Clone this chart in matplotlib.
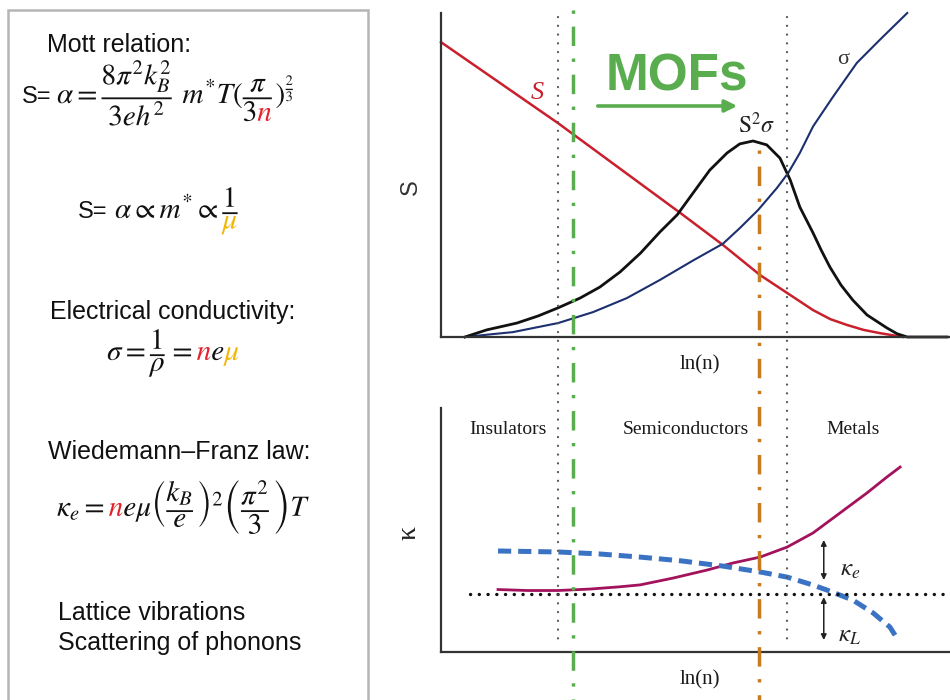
import numpy as np
import matplotlib
matplotlib.use('Agg')
import matplotlib.pyplot as plt
from matplotlib.patches import Rectangle, PathPatch
from matplotlib.path import Path
from matplotlib.transforms import Affine2D
from matplotlib.font_manager import FontProperties
from matplotlib.textpath import text_to_path

plt.rcParams['font.family'] = ['Liberation Sans', 'DejaVu Sans']
plt.rcParams['mathtext.fontset'] = 'stix'
plt.rcParams['lines.scale_dashes'] = False

W, H = 950, 700

# upper panel: S, sigma and S^2*sigma against ln(n) (arbitrary units 0..10)
s_x = [0.0, 2.30, 4.70, 5.54, 6.27, 6.80, 7.31, 7.65, 7.98, 8.30, 8.62, 9.08]
s_y = [9.10, 6.60, 3.83, 2.84, 1.91, 1.36, 0.83, 0.55, 0.37, 0.22, 0.12, 0.0]
sigma_x = [0.47, 0.96, 1.41, 2.30, 2.99, 3.65, 4.30, 4.95, 5.54, 5.87, 6.23, 6.60, 6.82,
           7.05, 7.31, 7.70, 8.17, 8.62, 9.16]
sigma_y = [0.0, 0.08, 0.15, 0.43, 0.77, 1.20, 1.76, 2.36, 2.88, 3.36, 3.92, 4.60, 5.06,
           5.68, 6.50, 7.41, 8.46, 9.17, 10.0]
pf_x = [0.47, 0.90, 1.49, 1.91, 2.30, 2.73, 3.12, 3.52, 3.92, 4.30, 4.64, 4.95, 5.28, 5.62,
        5.87, 6.13, 6.40, 6.66, 6.86, 7.05, 7.31, 7.47, 7.64, 7.86, 8.09, 8.37, 8.76, 8.96,
        9.16, 9.94]
pf_y = [0.0, 0.22, 0.43, 0.65, 0.90, 1.20, 1.54, 2.01, 2.59, 3.24, 3.77, 4.44, 5.15, 5.68,
        5.96, 6.05, 5.93, 5.52, 4.85, 4.01, 3.21, 2.68, 2.16, 1.60, 1.14, 0.68, 0.28, 0.10,
        0.0, 0.0]

# lower panel: total kappa and lattice kappa
kappa_x = [1.12, 1.70, 2.30, 2.93, 3.50, 3.91, 4.56, 5.23, 5.74, 6.27, 6.80, 7.31, 7.84,
           8.37, 8.76, 9.02]
kappa_y = [2.56, 2.52, 2.52, 2.58, 2.67, 2.75, 3.03, 3.36, 3.65, 3.89, 4.30, 4.88, 5.70,
           6.52, 7.17, 7.58]
kl_x = [1.12, 2.30, 3.10, 3.91, 4.70, 5.54, 6.27, 6.80, 7.30, 7.58, 8.09, 8.49, 8.82, 8.98]
kl_y = [4.14, 4.10, 4.02, 3.89, 3.74, 3.52, 3.28, 3.07, 2.75, 2.54, 2.13, 1.60, 1.02, 0.49]
kappa_ref = 2.38
regions = ['Insulators', 'Semiconductors', 'Metals']
region_pos = [1.32, 4.81, 8.09]

# vertical guides: region borders, MOF range, power-factor peak
border_x = [2.30, 6.80]
mof_x = 2.59
peak_x = 6.25

RED = '#c8202c'
GREEN = '#5aad4e'
ORANGE = '#c97a1f'
N_RED = '#e3222c'
MU_GOLD = '#f2b705'
INK = '#111111'

fig = plt.figure(figsize=(W / 100, H / 100), dpi=100)


def px(x, y):
    return x / W, 1 - y / H


def math_text(x, y, tex, size, colors=None):
    """mathtext drawn glyph by glyph so single letters can carry their own colour"""
    colors = colors or {}
    prop = FontProperties(size=size, math_fontfamily='stix')
    glyphs, glyph_map, rects = text_to_path.get_glyphs_mathtext(prop, tex)
    k = size / text_to_path.FONT_SCALE * fig.dpi / 72
    tr = Affine2D().scale(k).translate(x, H - y)
    groups = {}
    for gid, gx, gy, scale in glyphs:
        verts, codes = glyph_map[gid]
        if len(codes) == 0:
            continue
        try:
            code = int(gid.rsplit('-', 1)[1], 16)
        except ValueError:
            code = None
        c = colors.get(code, INK)
        groups.setdefault(c, []).append((np.asarray(verts) * scale + [gx, gy], np.asarray(codes)))
    for verts, codes in rects:
        groups.setdefault(INK, []).append((np.asarray(verts, float), np.asarray(codes)))
    for c, items in groups.items():
        v = np.concatenate([a for a, _ in items])
        cd = np.concatenate([b for _, b in items]).astype(np.uint8)
        fig.add_artist(PathPatch(Path(v, cd), transform=tr, facecolor=c, edgecolor='none'))


# ---- left box with the relations ----
fig.add_artist(Rectangle((8 / W, -0.05), 360 / W, 1.05 - 10 / H, transform=fig.transFigure,
                         fill=False, edgecolor='#b5b5b5', lw=1.8))

n_col = {ord('n'): N_RED, 0x1D45B: N_RED}
mu_col = {0x3BC: MU_GOLD, 0x1D707: MU_GOLD}
MS = 21

fig.text(*px(47, 45), 'Mott relation:', fontsize=18, va='center', color=INK)
fig.text(*px(22, 103), 'S=', fontsize=17, va='baseline', color=INK)
math_text(57, 103, r'$\alpha = \dfrac{8\pi^2 k_B^2}{3eh^2}\ m^{*}T(\dfrac{\pi}{3n})^{\frac{2}{3}}$',
          MS, n_col)

fig.text(*px(78, 218), 'S=', fontsize=17, va='baseline', color=INK)
math_text(115, 218, r'$\alpha \propto m^{*} \propto \dfrac{1}{\mu}$', MS, mu_col)

fig.text(*px(50, 312), 'Electrical conductivity:', fontsize=18, va='center', color=INK)
math_text(107, 360, r'$\sigma = \dfrac{1}{\rho} = ne\mu$', MS, {**n_col, **mu_col})

fig.text(*px(48, 452), 'Wiedemann\u2013Franz law:', fontsize=18, va='center', color=INK)
math_text(57, 516, r'$\kappa_e = ne\mu\left(\dfrac{k_B}{e}\right)^2\left(\dfrac{\pi^2}{3}\right)T$',
          MS, n_col)

fig.text(*px(58, 613), 'Lattice vibrations', fontsize=18, va='center', color=INK)
fig.text(*px(58, 643), 'Scattering of phonons', fontsize=18, va='center', color=INK)

# ---- plots ----
ax1 = fig.add_axes([441 / W, 1 - 337 / H, 509 / W, (337 - 13) / H])
ax2 = fig.add_axes([441 / W, 1 - 652 / H, 509 / W, (652 - 408) / H])
for ax in (ax1, ax2):
    ax.set_xlim(0, 10)
    ax.set_ylim(0, 10)
    ax.set_xticks([])
    ax.set_yticks([])
    ax.patch.set_alpha(0)
    for side in ('top', 'right'):
        ax.spines[side].set_visible(False)
    for side in ('left', 'bottom'):
        ax.spines[side].set_color('#333333')
        ax.spines[side].set_linewidth(1.6)

ax1.plot(s_x, s_y, color=RED, lw=1.8, clip_on=False, solid_joinstyle='round')
ax1.plot(sigma_x, sigma_y, color='#1c2f6e', lw=1.5, clip_on=False, solid_joinstyle='round')
ax1.plot(pf_x, pf_y, color=INK, lw=2.0, clip_on=False, solid_joinstyle='round')

ax1.text(1.89, 7.53, 'S', color=RED, fontsize=19, style='italic', family='Liberation Serif',
         ha='center', va='center')
ax1.text(7.90, 8.55, '\u03c3', color='#333333', fontsize=16, family='Liberation Serif',
         ha='center', va='center')
ax1.text(6.21, 6.54, r'$\mathrm{S}^{2}\sigma$', color='#222222', fontsize=17,
         ha='center', va='center')
ax1.text(4.64, 7.62, 'MOFs', color=GREEN, fontsize=37, fontweight='bold',
         ha='center', va='baseline')
ax1.annotate('', xy=(5.82, 7.13), xytext=(3.08, 7.13),
             arrowprops=dict(arrowstyle='-|>', color=GREEN, lw=2.6, mutation_scale=18,
                             shrinkA=0, shrinkB=0))

ax2.plot(kappa_x, kappa_y, color='#a3125c', lw=2.0, clip_on=False, solid_joinstyle='round')
ax2.plot(kl_x, kl_y, color='#3b73c4', lw=3.6, linestyle=(0, (9.5, 5.0)), clip_on=False)
ax2.plot([0.57, 10], [kappa_ref, kappa_ref], color=INK, lw=2.4, linestyle=(0, (0.1, 6.2)),
         dash_capstyle='round', clip_on=False)
for name, xp in zip(regions, region_pos):
    ax2.text(xp, 9.1, name, fontsize=14, family='Liberation Serif', color='#1a1a1a',
             ha='center', va='center')
for y0, y1 in [(2.95, 4.59), (0.49, 2.25)]:
    ax2.annotate('', xy=(7.52, y1), xytext=(7.52, y0),
                 arrowprops=dict(arrowstyle='<|-|>', color='#222222', lw=1.1,
                                 mutation_scale=8, shrinkA=0, shrinkB=0))
ax2.text(8.04, 3.40, r'$\kappa_e$', fontsize=18, color='#222222', ha='center', va='center')
ax2.text(8.02, 0.70, r'$\kappa_L$', fontsize=18, color='#222222', ha='center', va='center')

# axis labels
fig.text(*px(411, 187), 'S', fontsize=17, rotation=90, ha='center', va='center', color='#333333')
fig.text(*px(409, 533), '\u03ba', fontsize=20, rotation=90, ha='center', va='center',
         family='Liberation Serif', color='#222222')
for yy in (365, 680):
    fig.text(*px(700, yy), 'ln(n)', fontsize=15, family='Liberation Serif', ha='center',
             va='center', color='#1a1a1a')

# ---- guide lines spanning both plots ----
ov = fig.add_axes([441 / W, 0, 509 / W, 1])
ov.set_xlim(0, 10)
ov.set_ylim(H, 0)
ov.axis('off')
for xb in border_x:
    ov.plot([xb, xb], [17, 646], color='#555555', lw=1.6, linestyle=(0, (0.1, 6.2)),
            dash_capstyle='round')
ov.plot([mof_x, mof_x], [10, 700], color=GREEN, lw=2.5, linestyle=(23, (14, 9, 2.4, 9.2)))
ov.plot([peak_x, peak_x], [150, 700], color=ORANGE, lw=2.5, linestyle=(23, (14, 9, 2.4, 9.2)))

fig.savefig('out.png', dpi=100)
